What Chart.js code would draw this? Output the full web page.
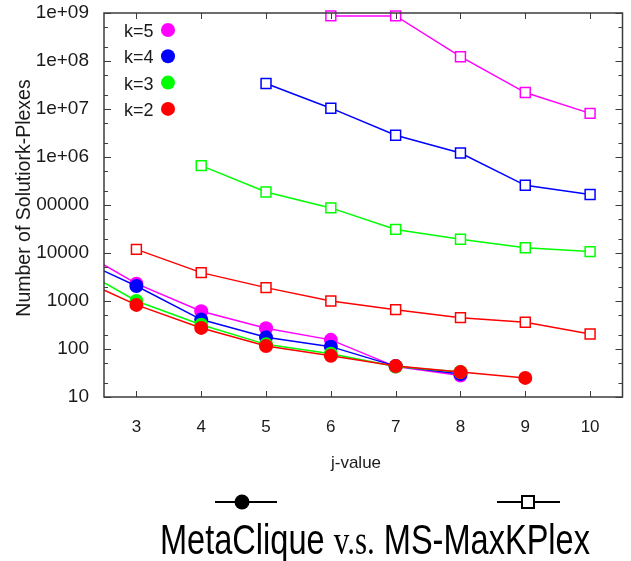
<!DOCTYPE html>
<html>
<head>
<meta charset="utf-8">
<script src="https://cdn.jsdelivr.net/npm/chart.js@4.4.0/dist/chart.umd.min.js"></script>
<style>
  body { margin: 0; background: #fff; }
  #wrap { position: relative; width: 631px; height: 561px; }
  #caption {
    position: absolute; left: 160px; top: 519px;
    font-family: 'Liberation Sans', Arial, sans-serif; font-size: 42px; line-height: 42px;
    color: #000; white-space: nowrap;
    transform: scaleX(0.775); transform-origin: left top;
  }
  #caption .vs { font-family: 'Liberation Serif', 'Times New Roman', serif; font-size: 40px; }
</style>
</head>
<body>
<div id="wrap">
  <canvas id="kplexChart" width="631" height="561"></canvas>
  <div id="caption">MetaClique <span class="vs">v.s.</span> MS-MaxKPlex</div>
</div>
<script>
// ---- data ----
const xTickValues = [3, 4, 5, 6, 7, 8, 9, 10];
const yTickValues = [10, 100, 1000, 10000, 100000, 1e6, 1e7, 1e8, 1e9];
const yTickLabels = ['10', '100', '1000', '10000', '100000', '1e+06', '1e+07', '1e+08', '1e+09'];

const kLabels = ['k=5', 'k=4', 'k=3', 'k=2'];
const kColors = ['#ff00ff', '#0000ff', '#00ff00', '#ff0000'];

// MetaClique (filled circles) - first point sits left of the visible range
const metaJ5 = [2, 3, 4, 5, 6, 7, 8];
const metaK5 = [14000, 2300, 610, 270, 155, 43, 28];
const metaJ4 = [2, 3, 4, 5, 6, 7, 8];
const metaK4 = [8700, 2050, 410, 175, 112, 44, 30];
const metaJ3 = [2, 3, 4, 5, 6, 7, 8];
const metaK3 = [5800, 1000, 320, 125, 80, 43, 33];
const metaJ2 = [2, 3, 4, 5, 6, 7, 8, 9];
const metaK2 = [3400, 830, 275, 115, 72, 44, 33, 25];

// MS-MaxKPlex (open squares)
const msJ5 = [6, 7, 8, 9, 10];
const msK5 = [8.7e8, 8.7e8, 1.23e8, 2.2e7, 8.1e6];
const msJ4 = [5, 6, 7, 8, 9, 10];
const msK4 = [3.4e7, 1.04e7, 2.83e6, 1.21e6, 2.57e5, 1.66e5];
const msJ3 = [4, 5, 6, 7, 8, 9, 10];
const msK3 = [6.6e5, 1.86e5, 8.7e4, 3.1e4, 1.93e4, 1.29e4, 1.07e4];
const msJ2 = [3, 4, 5, 6, 7, 8, 9, 10];
const msK2 = [1.19e4, 3900, 1900, 1000, 660, 450, 360, 205];

const FONT = "'Liberation Sans', Arial, sans-serif";

function pts(xs, ys) {
  return xs.map((x, i) => ({ x: x, y: ys[i] }));
}

function circleSet(xs, ys, color) {
  return {
    data: pts(xs, ys),
    borderColor: color,
    backgroundColor: color,
    borderWidth: 1.5,
    pointRadius: 7,
    pointBorderWidth: 0,
    pointBackgroundColor: color,
    pointStyle: 'circle',
    tension: 0,
    clip: { left: 0, top: false, right: false, bottom: false }
  };
}

function squareSet(xs, ys, color) {
  return {
    data: pts(xs, ys),
    borderColor: color,
    backgroundColor: '#fff',
    borderWidth: 1.5,
    pointRadius: 7,
    pointBorderWidth: 1.5,
    pointBackgroundColor: '#fff',
    pointBorderColor: color,
    pointStyle: 'rect',
    tension: 0,
    clip: false
  };
}

// cadre, petites graduations, titres et légendes
const decorPlugin = {
  id: 'decor',
  afterDraw(chart) {
    const ctx = chart.ctx;
    const a = chart.chartArea;
    const xs = chart.scales.x, ys = chart.scales.y;
    ctx.save();
    ctx.strokeStyle = '#3c3c3c';
    ctx.lineWidth = 1;
    ctx.beginPath();
    xTickValues.forEach(v => {
      const px = Math.round(xs.getPixelForValue(v)) + 0.5;
      ctx.moveTo(px, a.bottom); ctx.lineTo(px, a.bottom - 6);
      ctx.moveTo(px, a.top); ctx.lineTo(px, a.top + 6);
    });
    yTickValues.forEach(v => {
      let py = Math.round(ys.getPixelForValue(v)) + 0.5;
      ctx.moveTo(a.left, py); ctx.lineTo(a.left + 7, py);
      ctx.moveTo(a.right, py); ctx.lineTo(a.right - 7, py);
      [2, 5].forEach(m => {
        if (v * m < 1e9) {
          py = Math.round(ys.getPixelForValue(v * m)) + 0.5;
          ctx.moveTo(a.left, py); ctx.lineTo(a.left + 4, py);
          ctx.moveTo(a.right, py); ctx.lineTo(a.right - 4, py);
        }
      });
    });
    ctx.stroke();
    ctx.lineWidth = 1.5;
    ctx.strokeRect(a.left, a.top, a.right - a.left, a.bottom - a.top);

    // titre axe y (recouvre le "1" de 100000 comme l'original)
    ctx.font = '19.5px ' + FONT;
    ctx.save();
    ctx.translate(25, 198);
    ctx.rotate(-Math.PI / 2);
    const title = 'Number of Solutiork-Plexes';
    const w = ctx.measureText(title).width;
    ctx.fillStyle = '#fff';
    ctx.fillRect(-w / 2, -11, w, 23);
    ctx.fillStyle = '#1a1a1a';
    ctx.textAlign = 'center';
    ctx.textBaseline = 'middle';
    ctx.fillText(title, 0, 0);
    ctx.restore();

    // titre axe x
    ctx.font = '17px ' + FONT;
    ctx.fillStyle = '#1a1a1a';
    ctx.textAlign = 'center';
    ctx.textBaseline = 'middle';
    ctx.fillText('j-value', 356, 463);

    // légende k
    ctx.font = '18px ' + FONT;
    ctx.textAlign = 'left';
    kLabels.forEach((lab, i) => {
      const yy = 31 + i * 26.3;
      ctx.fillStyle = '#1a1a1a';
      ctx.fillText(lab, 124, yy + 1);
      ctx.fillStyle = kColors[i];
      ctx.beginPath();
      ctx.arc(168, yy - 1, 7, 0, Math.PI * 2);
      ctx.fill();
    });

    // légende du bas
    ctx.strokeStyle = '#000';
    ctx.fillStyle = '#000';
    ctx.lineWidth = 2;
    ctx.beginPath();
    ctx.moveTo(215, 502); ctx.lineTo(277, 502);
    ctx.moveTo(497, 502); ctx.lineTo(522, 502);
    ctx.moveTo(534, 502); ctx.lineTo(560, 502);
    ctx.stroke();
    ctx.beginPath();
    ctx.arc(242, 502, 7.5, 0, Math.PI * 2);
    ctx.fill();
    ctx.strokeRect(522, 496, 12, 12);
    ctx.restore();
  }
};

const ctx = document.getElementById('kplexChart').getContext('2d');
new Chart(ctx, {
  type: 'line',
  data: {
    datasets: [
      circleSet(metaJ2, metaK2, kColors[3]),
      circleSet(metaJ3, metaK3, kColors[2]),
      circleSet(metaJ4, metaK4, kColors[1]),
      circleSet(metaJ5, metaK5, kColors[0]),
      squareSet(msJ2, msK2, kColors[3]),
      squareSet(msJ3, msK3, kColors[2]),
      squareSet(msJ4, msK4, kColors[1]),
      squareSet(msJ5, msK5, kColors[0])
    ]
  },
  options: {
    responsive: false,
    animation: false,
    layout: { padding: { top: 13, right: 8, left: 0, bottom: 0 } },
    plugins: { legend: { display: false }, tooltip: { enabled: false } },
    scales: {
      x: {
        type: 'linear',
        min: 2.5,
        max: 10.5,
        grid: { display: false, drawTicks: false },
        border: { display: false },
        afterBuildTicks: s => { s.ticks = xTickValues.map(v => ({ value: v })); },
        afterFit: s => { s.height = 164; s.paddingLeft = 0; s.paddingRight = 0; },
        ticks: {
          padding: 20,
          color: '#1a1a1a',
          font: { family: FONT, size: 17 },
          maxRotation: 0,
          autoSkip: false
        }
      },
      y: {
        type: 'logarithmic',
        min: 10,
        max: 1e9,
        grid: { display: false, drawTicks: false },
        border: { display: false },
        afterBuildTicks: s => { s.ticks = yTickValues.map(v => ({ value: v })); },
        afterFit: s => { s.width = 104; s.paddingTop = 0; s.paddingBottom = 0; },
        ticks: {
          padding: 15,
          color: '#1a1a1a',
          font: { family: FONT, size: 19 },
          autoSkip: false,
          callback: function (value, index) { return yTickLabels[index]; }
        }
      }
    }
  },
  plugins: [decorPlugin]
});
</script>
</body>
</html>
